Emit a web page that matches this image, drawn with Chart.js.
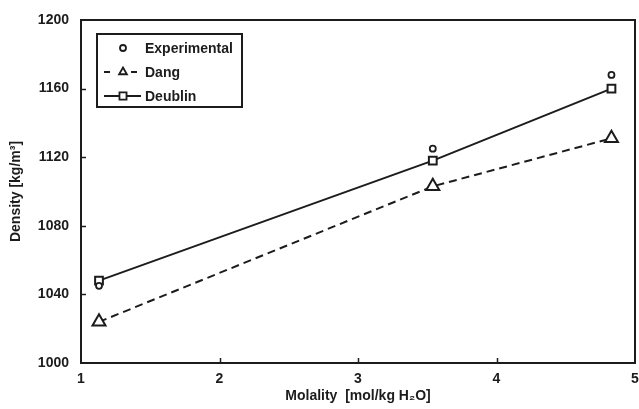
<!DOCTYPE html>
<html>
<head>
<meta charset="utf-8">
<script src="https://cdn.jsdelivr.net/npm/chart.js@4/dist/chart.umd.min.js"></script>
<style>
  body { margin: 0; background: #fff; }
  #wrap { width: 639px; height: 409px; }
</style>
</head>
<body>
<div id="wrap"><canvas id="densityChart"></canvas></div>
<script>
// Data
const molality = [1.13, 3.54, 4.83];
const experimental = [1045, 1125, 1168];
const dang = [1024, 1103, 1131];
const deublin = [1048, 1118, 1160];
const seriesNames = ['Experimental', 'Dang', 'Deublin'];
const yTitle = 'Density [kg/m\u00B3]';

const INK = '#1c1c1c';
const FONT = '"Liberation Sans", Arial, sans-serif';

function toPoints(ys) {
    return molality.map((x, i) => ({ x: x, y: ys[i] }));
}

// Frame + inward tick marks
const framePlugin = {
    id: 'frame',
    beforeDatasetsDraw(chart) {
        const ctx = chart.ctx;
        const a = chart.chartArea;
        const xs = chart.scales.x, ys = chart.scales.y;
        ctx.save();
        ctx.strokeStyle = INK;
        ctx.lineWidth = 1.5;
        ys.ticks.forEach(t => {
            if (t.value <= ys.min || t.value >= ys.max) return;
            const y = Math.round(ys.getPixelForValue(t.value)) + 0.5;
            ctx.beginPath(); ctx.moveTo(a.left, y); ctx.lineTo(a.left + 5, y); ctx.stroke();
        });
        xs.ticks.forEach(t => {
            if (t.value <= xs.min || t.value >= xs.max) return;
            const x = Math.round(xs.getPixelForValue(t.value)) + 0.5;
            ctx.beginPath(); ctx.moveTo(x, a.bottom); ctx.lineTo(x, a.bottom - 5); ctx.stroke();
        });
        ctx.lineWidth = 2;
        ctx.strokeRect(a.left, a.top, a.right - a.left, a.bottom - a.top);
        ctx.restore();
    }
};

// Y axis title, rotated, centred on the plot
const yTitlePlugin = {
    id: 'yTitle',
    afterDraw(chart) {
        const ctx = chart.ctx;
        const a = chart.chartArea;
        ctx.save();
        ctx.translate(16, (a.top + a.bottom) / 2);
        ctx.rotate(-Math.PI / 2);
        ctx.fillStyle = INK;
        ctx.font = 'bold 14px ' + FONT;
        ctx.textAlign = 'center';
        ctx.textBaseline = 'middle';
        ctx.fillText(yTitle, 0, 0);
        ctx.restore();
    }
};

// Boxed legend in the upper left
const boxLegend = {
    id: 'boxLegend',
    afterDraw(chart) {
        const ctx = chart.ctx;
        ctx.save();
        ctx.strokeStyle = INK;
        ctx.lineWidth = 2;
        ctx.strokeRect(97, 34, 145, 73);
        chart.data.datasets.forEach((ds, i) => {
            const y = 48 + i * 24;
            ctx.strokeStyle = ds.borderColor;
            ctx.lineWidth = ds.borderWidth;
            if (ds.showLine) {
                ctx.setLineDash(ds.borderDash && ds.borderDash.length ? [6, 21] : []);
                ctx.beginPath(); ctx.moveTo(104, y); ctx.lineTo(141, y); ctx.stroke();
                ctx.setLineDash([]);
            }
            ctx.fillStyle = '#fff';
            ctx.lineWidth = 1.8;
            Chart.helpers.drawPoint(ctx, {
                pointStyle: ds.pointStyle,
                radius: ds.legendRadius,
                rotation: 0,
                borderWidth: 1.8
            }, 123, y);
            ctx.fillStyle = INK;
            ctx.font = 'bold 14px ' + FONT;
            ctx.textAlign = 'left';
            ctx.textBaseline = 'middle';
            ctx.fillText(ds.label, 145, y + 1);
        });
        ctx.restore();
    }
};

new Chart(document.getElementById('densityChart'), {
    type: 'scatter',
    data: {
        datasets: [
            {
                label: seriesNames[0],
                data: toPoints(experimental),
                showLine: false,
                pointStyle: 'circle',
                pointRadius: 3,
                legendRadius: 3,
                borderColor: INK,
                backgroundColor: '#fff',
                borderWidth: 1.8
            },
            {
                label: seriesNames[1],
                data: toPoints(dang),
                showLine: true,
                borderDash: [8, 5],
                pointStyle: 'triangle',
                pointRadius: 7.5,
                legendRadius: 4.5,
                borderColor: INK,
                backgroundColor: '#fff',
                borderWidth: 2
            },
            {
                label: seriesNames[2],
                data: toPoints(deublin),
                showLine: true,
                pointStyle: 'rect',
                pointRadius: 5.5,
                legendRadius: 5,
                borderColor: INK,
                backgroundColor: '#fff',
                borderWidth: 2
            }
        ]
    },
    options: {
        responsive: true,
        maintainAspectRatio: false,
        animation: false,
        layout: { autoPadding: false, padding: { top: 20, right: 4, left: 0, bottom: 0 } },
        elements: { point: { borderWidth: 1.8, hoverRadius: 6 }, line: { tension: 0 } },
        plugins: {
            legend: { display: false },
            tooltip: { enabled: false }
        },
        scales: {
            x: {
                type: 'linear',
                min: 1,
                max: 5,
                afterFit(scale) {
                    scale.height = 46;
                    scale.paddingLeft = 0;
                    scale.paddingRight = 0;
                },
                ticks: {
                    stepSize: 1,
                    padding: 8,
                    color: INK,
                    callback: v => String(v),
                    font: { family: FONT, size: 14, weight: 'bold' }
                },
                grid: { display: false, drawTicks: false },
                border: { display: false },
                title: {
                    display: true,
                    text: 'Molality  [mol/kg H\u2082O]',
                    color: INK,
                    padding: { top: 4, bottom: 4 },
                    font: { family: FONT, size: 14, weight: 'bold' }
                }
            },
            y: {
                min: 1000,
                max: 1200,
                afterFit(scale) {
                    scale.width = 81;
                    scale.paddingTop = 0;
                    scale.paddingBottom = 0;
                },
                ticks: {
                    stepSize: 40,
                    padding: 12,
                    color: INK,
                    callback: v => String(v),
                    font: { family: FONT, size: 14, weight: 'bold' }
                },
                grid: { display: false, drawTicks: false },
                border: { display: false },
                title: { display: false }
            }
        }
    },
    plugins: [framePlugin, yTitlePlugin, boxLegend]
});
</script>
</body>
</html>
